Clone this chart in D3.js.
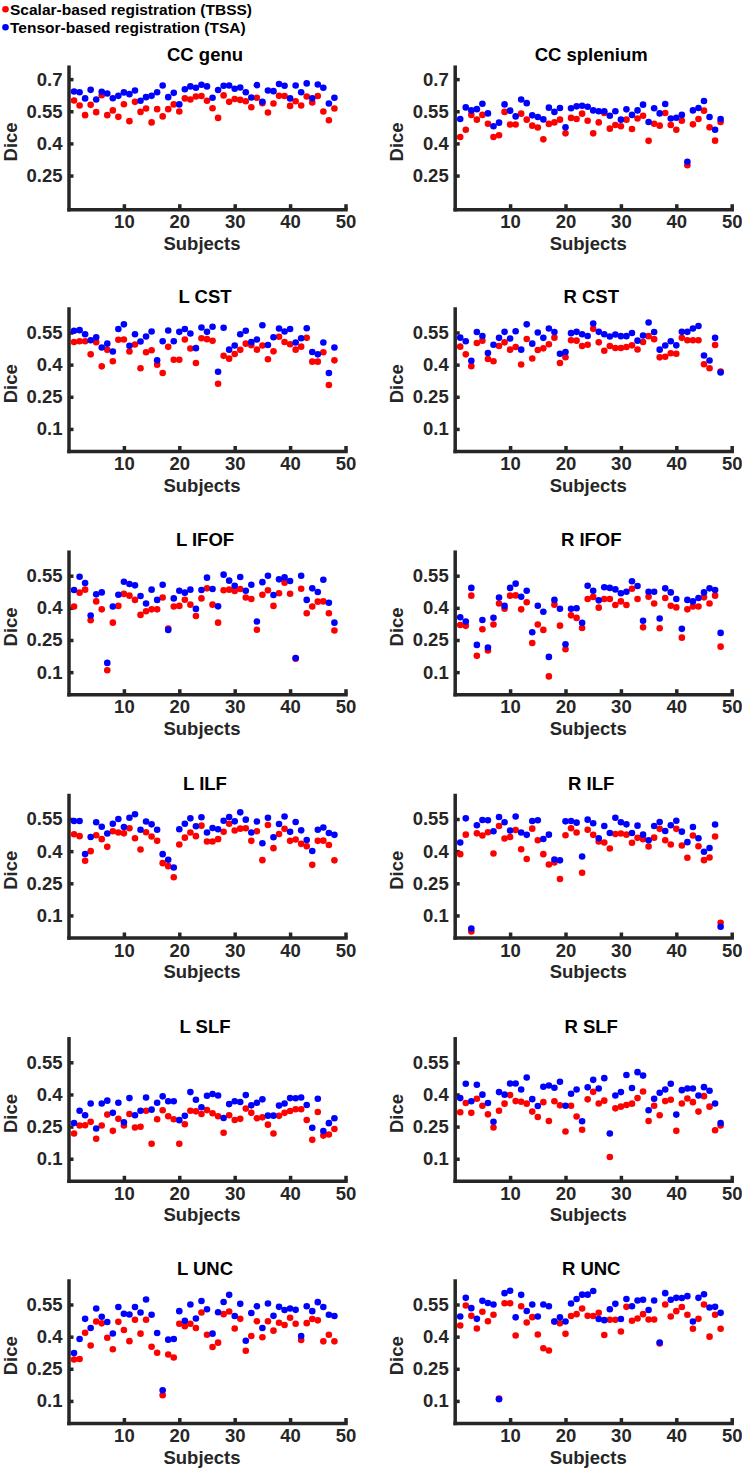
<!DOCTYPE html>
<html><head><meta charset="utf-8">
<script src="https://cdn.jsdelivr.net/npm/d3@7"></script>
<style>
body{margin:0;background:#fff}
svg{display:block}
text{font-family:"Liberation Sans",Arial,Helvetica,sans-serif;font-weight:bold}
</style>
</head><body>
<svg id="chart" width="742" height="1472"></svg>
<script>
// ---------------- DATA ----------------
const subjects = [1,2,3,4,5,6,7,8,9,10,11,12,13,14,15,16,17,18,19,20,21,22,23,24,25,26,27,28,29,30,31,32,33,34,35,36,37,38,39,40,41,42,43,44,45,46,47,48];
const xTickValues = [10,20,30,40,50];
const yTicksTopRow = [0.25,0.4,0.55,0.7];
const yTicksOther = [0.1,0.25,0.4,0.55];
const yTickLabelsTopRow = ["0.25","0.4","0.55","0.7"];
const yTickLabelsOther = ["0.1","0.25","0.4","0.55"];
const seriesNames = ["Scalar-based registration (TBSS)","Tensor-based registration (TSA)"];
const tractNames = ["CC genu","CC splenium","L CST","R CST","L IFOF","R IFOF","L ILF","R ILF","L SLF","R SLF","L UNC","R UNC"];

const tbssCCgenu = [0.6,0.577,0.532,0.58,0.546,0.625,0.532,0.554,0.524,0.583,0.504,0.594,0.547,0.563,0.498,0.56,0.526,0.56,0.582,0.549,0.61,0.605,0.619,0.621,0.599,0.564,0.519,0.624,0.594,0.607,0.603,0.597,0.569,0.613,0.588,0.544,0.586,0.622,0.621,0.575,0.597,0.577,0.619,0.591,0.621,0.549,0.508,0.563];
const tsaCCgenu = [0.642,0.639,0.61,0.65,0.605,0.641,0.633,0.611,0.622,0.638,0.63,0.647,0.599,0.616,0.622,0.639,0.67,0.616,0.636,0.582,0.653,0.666,0.66,0.674,0.666,0.613,0.649,0.669,0.67,0.655,0.661,0.639,0.614,0.672,0.594,0.647,0.644,0.677,0.669,0.61,0.67,0.639,0.68,0.611,0.675,0.66,0.586,0.613];

const tbssCCsplenium = [0.43,0.464,0.533,0.511,0.533,0.492,0.43,0.438,0.547,0.488,0.488,0.539,0.511,0.483,0.474,0.419,0.491,0.498,0.511,0.447,0.519,0.514,0.539,0.506,0.447,0.498,0.542,0.469,0.486,0.48,0.511,0.467,0.516,0.529,0.412,0.492,0.483,0.542,0.486,0.464,0.506,0.298,0.489,0.514,0.553,0.475,0.413,0.5];
const tsaCCsplenium = [0.514,0.568,0.554,0.56,0.585,0.54,0.48,0.497,0.582,0.553,0.526,0.605,0.588,0.531,0.523,0.512,0.567,0.547,0.565,0.475,0.564,0.573,0.576,0.571,0.554,0.55,0.55,0.529,0.55,0.511,0.559,0.533,0.554,0.581,0.5,0.564,0.54,0.584,0.516,0.52,0.533,0.314,0.554,0.565,0.598,0.523,0.464,0.514];

const tbssLCST = [0.506,0.509,0.509,0.448,0.505,0.392,0.469,0.416,0.516,0.517,0.461,0.494,0.383,0.458,0.467,0.4,0.361,0.483,0.423,0.423,0.517,0.475,0.408,0.523,0.519,0.511,0.311,0.441,0.428,0.45,0.469,0.498,0.491,0.47,0.489,0.425,0.462,0.53,0.506,0.495,0.47,0.484,0.525,0.414,0.414,0.458,0.305,0.42];
const tsaLCST = [0.558,0.561,0.542,0.514,0.528,0.48,0.498,0.461,0.566,0.588,0.488,0.542,0.508,0.531,0.555,0.42,0.509,0.559,0.509,0.553,0.566,0.545,0.477,0.573,0.553,0.577,0.367,0.572,0.47,0.489,0.542,0.558,0.505,0.517,0.584,0.492,0.528,0.569,0.555,0.566,0.503,0.523,0.57,0.459,0.448,0.503,0.361,0.48];

const tbssRCST = [0.484,0.448,0.393,0.501,0.512,0.426,0.416,0.487,0.504,0.47,0.482,0.401,0.52,0.429,0.468,0.476,0.495,0.526,0.408,0.435,0.514,0.512,0.487,0.493,0.567,0.504,0.465,0.487,0.478,0.478,0.482,0.49,0.471,0.506,0.533,0.519,0.434,0.437,0.453,0.451,0.525,0.514,0.514,0.514,0.402,0.383,0.492,0.368];
const tsaRCST = [0.526,0.509,0.418,0.552,0.534,0.454,0.493,0.525,0.553,0.522,0.556,0.47,0.588,0.498,0.55,0.525,0.569,0.552,0.451,0.459,0.547,0.553,0.542,0.534,0.592,0.553,0.542,0.531,0.541,0.533,0.533,0.548,0.512,0.536,0.597,0.552,0.47,0.489,0.509,0.49,0.553,0.553,0.569,0.58,0.443,0.419,0.525,0.363];

const tbssLIFOF = [0.406,0.471,0.485,0.342,0.43,0.393,0.109,0.331,0.409,0.465,0.457,0.437,0.367,0.384,0.393,0.393,0.448,0.303,0.406,0.409,0.438,0.415,0.362,0.444,0.491,0.415,0.331,0.482,0.485,0.479,0.488,0.448,0.441,0.298,0.461,0.482,0.409,0.468,0.517,0.466,0.163,0.489,0.375,0.406,0.429,0.43,0.375,0.294];
const tsaLIFOF = [0.483,0.545,0.516,0.364,0.463,0.472,0.143,0.406,0.461,0.522,0.511,0.505,0.455,0.42,0.485,0.437,0.508,0.297,0.444,0.48,0.471,0.485,0.395,0.483,0.541,0.488,0.407,0.555,0.527,0.503,0.544,0.48,0.508,0.336,0.52,0.55,0.46,0.533,0.542,0.525,0.166,0.55,0.437,0.491,0.474,0.531,0.424,0.331];

const tbssRIFOF = [0.32,0.316,0.457,0.176,0.3,0.201,0.322,0.42,0.396,0.457,0.458,0.393,0.426,0.236,0.322,0.297,0.08,0.415,0.317,0.207,0.365,0.353,0.306,0.441,0.451,0.401,0.441,0.441,0.413,0.43,0.413,0.489,0.441,0.309,0.452,0.42,0.305,0.446,0.41,0.402,0.261,0.393,0.406,0.406,0.449,0.42,0.457,0.219];
const tsaRIFOF = [0.356,0.336,0.493,0.227,0.343,0.215,0.354,0.448,0.409,0.493,0.513,0.452,0.48,0.286,0.41,0.382,0.171,0.437,0.396,0.23,0.396,0.398,0.33,0.503,0.48,0.435,0.496,0.493,0.486,0.468,0.475,0.524,0.502,0.34,0.475,0.475,0.35,0.491,0.472,0.441,0.302,0.437,0.43,0.446,0.472,0.491,0.483,0.283];

const tbssLILF = [0.479,0.47,0.355,0.4,0.474,0.456,0.42,0.493,0.487,0.483,0.507,0.46,0.408,0.488,0.468,0.448,0.344,0.33,0.278,0.431,0.463,0.487,0.47,0.519,0.445,0.445,0.456,0.49,0.528,0.496,0.505,0.507,0.448,0.493,0.358,0.522,0.414,0.48,0.504,0.448,0.454,0.434,0.423,0.336,0.448,0.449,0.429,0.357];
const tsaLILF = [0.541,0.541,0.387,0.466,0.535,0.514,0.482,0.528,0.55,0.513,0.556,0.572,0.5,0.538,0.525,0.5,0.386,0.36,0.324,0.502,0.528,0.553,0.516,0.558,0.487,0.508,0.502,0.542,0.559,0.539,0.581,0.547,0.487,0.538,0.437,0.556,0.465,0.527,0.562,0.49,0.536,0.497,0.452,0.401,0.5,0.51,0.485,0.476];

const tbssRILF = [0.386,0.477,0.025,0.483,0.473,0.488,0.389,0.517,0.459,0.466,0.499,0.409,0.363,0.505,0.451,0.386,0.338,0.347,0.27,0.474,0.507,0.487,0.299,0.5,0.476,0.445,0.44,0.412,0.48,0.482,0.477,0.439,0.462,0.456,0.422,0.463,0.504,0.451,0.431,0.504,0.426,0.369,0.473,0.423,0.358,0.37,0.468,0.066];
const tsaRILF = [0.44,0.553,0.039,0.521,0.545,0.544,0.493,0.559,0.535,0.496,0.562,0.487,0.476,0.541,0.544,0.457,0.477,0.361,0.357,0.539,0.541,0.533,0.375,0.547,0.53,0.46,0.517,0.485,0.556,0.535,0.525,0.485,0.519,0.477,0.451,0.517,0.536,0.494,0.521,0.542,0.491,0.442,0.513,0.46,0.397,0.415,0.524,0.047];

const tbssLSLF = [0.218,0.255,0.256,0.272,0.193,0.255,0.306,0.23,0.286,0.255,0.309,0.246,0.249,0.324,0.17,0.284,0.326,0.298,0.284,0.17,0.261,0.324,0.321,0.309,0.327,0.312,0.298,0.221,0.303,0.281,0.286,0.334,0.314,0.289,0.293,0.259,0.218,0.3,0.314,0.323,0.331,0.331,0.281,0.188,0.318,0.208,0.213,0.239];
const tsaLSLF = [0.267,0.324,0.303,0.358,0.241,0.358,0.371,0.314,0.361,0.27,0.383,0.303,0.324,0.386,0.329,0.361,0.391,0.368,0.368,0.28,0.3,0.411,0.375,0.34,0.394,0.402,0.395,0.29,0.355,0.368,0.365,0.397,0.349,0.361,0.377,0.301,0.301,0.348,0.358,0.383,0.382,0.386,0.351,0.244,0.38,0.229,0.266,0.289];

const tbssRSLF = [0.317,0.36,0.314,0.38,0.347,0.307,0.246,0.324,0.357,0.397,0.369,0.366,0.357,0.32,0.295,0.364,0.276,0.368,0.349,0.227,0.347,0.297,0.235,0.377,0.412,0.358,0.371,0.108,0.335,0.343,0.351,0.357,0.383,0.414,0.276,0.347,0.303,0.369,0.375,0.23,0.358,0.381,0.364,0.32,0.392,0.343,0.233,0.255];
const tsaRSLF = [0.383,0.45,0.368,0.445,0.399,0.36,0.272,0.411,0.399,0.451,0.451,0.423,0.479,0.378,0.346,0.436,0.442,0.431,0.459,0.347,0.403,0.423,0.275,0.433,0.468,0.428,0.476,0.218,0.395,0.411,0.491,0.43,0.504,0.488,0.326,0.38,0.408,0.423,0.45,0.306,0.42,0.428,0.428,0.395,0.434,0.417,0.358,0.267];

const tbssLUNC = [0.293,0.296,0.418,0.359,0.471,0.462,0.395,0.341,0.469,0.431,0.379,0.479,0.414,0.479,0.353,0.325,0.127,0.317,0.303,0.46,0.449,0.46,0.44,0.513,0.409,0.352,0.372,0.505,0.517,0.438,0.483,0.334,0.403,0.472,0.397,0.472,0.428,0.465,0.454,0.488,0.46,0.384,0.463,0.482,0.476,0.378,0.409,0.378];
const tsaLUNC = [0.324,0.389,0.483,0.44,0.531,0.493,0.468,0.415,0.538,0.507,0.503,0.538,0.513,0.573,0.502,0.417,0.15,0.386,0.389,0.519,0.474,0.55,0.485,0.566,0.528,0.414,0.514,0.562,0.595,0.496,0.553,0.381,0.51,0.542,0.44,0.555,0.497,0.539,0.524,0.531,0.525,0.403,0.542,0.519,0.561,0.538,0.502,0.496];

const tbssRUNC = [0.452,0.545,0.497,0.438,0.516,0.472,0.502,0.111,0.556,0.556,0.405,0.542,0.466,0.491,0.41,0.346,0.335,0.471,0.462,0.413,0.496,0.505,0.531,0.497,0.496,0.511,0.408,0.479,0.479,0.424,0.539,0.474,0.485,0.505,0.48,0.48,0.368,0.55,0.494,0.519,0.538,0.502,0.437,0.483,0.55,0.4,0.502,0.437];
const tsaRUNC = [0.494,0.581,0.533,0.483,0.567,0.557,0.55,0.108,0.603,0.614,0.49,0.595,0.52,0.55,0.494,0.55,0.542,0.471,0.49,0.471,0.555,0.576,0.596,0.596,0.613,0.482,0.477,0.528,0.553,0.482,0.576,0.542,0.569,0.572,0.524,0.569,0.373,0.603,0.572,0.581,0.58,0.589,0.471,0.581,0.598,0.536,0.539,0.511];

const tbssAll = [tbssCCgenu,tbssCCsplenium,tbssLCST,tbssRCST,tbssLIFOF,tbssRIFOF,tbssLILF,tbssRILF,tbssLSLF,tbssRSLF,tbssLUNC,tbssRUNC];
const tsaAll = [tsaCCgenu,tsaCCsplenium,tsaLCST,tsaRCST,tsaLIFOF,tsaRIFOF,tsaLILF,tsaRILF,tsaLSLF,tsaRSLF,tsaLUNC,tsaRUNC];

// ---------------- LAYOUT ----------------
const svg = d3.select("#chart");
const colX = [68.5, 454.7];
const plotW = 277;
const rowTop = [66.7, 308.5, 551.7, 795, 1038.3, 1280.5];
const plotH = 142.5;
const axisColor = "#262626";
const RED = "#ff0000", BLUE = "#0000ff";
const tickFont = 18.5, labelFont = 18.5, titleFont = 18.5;

tractNames.forEach((name, i) => {
  const col = i % 2, row = Math.floor(i / 2);
  const x0 = colX[col], top = rowTop[row], bottom = top + plotH;
  const x = d3.scaleLinear().domain([0, 50]).range([x0, x0 + plotW]);
  const y = d3.scaleLinear()
    .domain(row === 0 ? [0.093, 0.758] : [-0.003, 0.662])
    .range([bottom, top]);
  const g = svg.append("g");

  const yTicks = row === 0 ? yTicksTopRow : yTicksOther;
  const yLabels = row === 0 ? yTickLabelsTopRow : yTickLabelsOther;

  const ya = d3.axisLeft(y).tickValues(yTicks).tickFormat((d, k) => yLabels[k])
    .tickSizeInner(-5).tickSizeOuter(0).tickPadding(6);
  const yg = g.append("g").attr("transform", `translate(${x0},0)`).call(ya);
  const xa = d3.axisBottom(x).tickValues(xTickValues).tickFormat(d3.format("d"))
    .tickSizeInner(-5).tickSizeOuter(0).tickPadding(6);
  const xg = g.append("g").attr("transform", `translate(0,${bottom})`).call(xa);

  [yg, xg].forEach(a => {
    a.attr("color", axisColor).attr("font-size", tickFont)
     .attr("font-family", '"Liberation Sans",Arial,sans-serif').attr("font-weight", "bold");
    a.select(".domain").attr("stroke-width", 3.5).attr("stroke-linecap", "square");
    a.selectAll(".tick line").attr("stroke-width", 3.5);
  });

  g.append("g").selectAll("circle").data(tbssAll[i]).join("circle")
    .attr("cx", (d, j) => x(subjects[j])).attr("cy", d => y(d))
    .attr("r", 3.3).attr("fill", RED);
  g.append("g").selectAll("circle").data(tsaAll[i]).join("circle")
    .attr("cx", (d, j) => x(subjects[j])).attr("cy", d => y(d))
    .attr("r", 3.3).attr("fill", BLUE);

  g.append("text").attr("x", x0 + plotW / 2 - 2).attr("y", top - 5.5)
    .attr("text-anchor", "middle").attr("font-size", titleFont).attr("fill", "#000")
    .text(name);
  g.append("text").attr("x", x0 + plotW / 2 - 5).attr("y", bottom + 40.5)
    .attr("text-anchor", "middle").attr("font-size", labelFont).attr("fill", axisColor)
    .text("Subjects");
  g.append("text")
    .attr("transform", `translate(${x0 - 52},${(top + bottom) / 2 + 4}) rotate(-90)`)
    .attr("text-anchor", "middle").attr("font-size", labelFont).attr("fill", axisColor)
    .text("Dice");
});

// legend
const legendColors = [RED, BLUE];
const lg = svg.append("g");
seriesNames.forEach((s, k) => {
  lg.append("circle").attr("cx", 5.5).attr("cy", 9.3 + 18 * k).attr("r", 3.3).attr("fill", legendColors[k]);
  lg.append("text").attr("x", 10).attr("y", 14.7 + 18 * k).attr("font-size", 15.5).attr("fill", "#000").text(s);
});
</script>
</body></html>
